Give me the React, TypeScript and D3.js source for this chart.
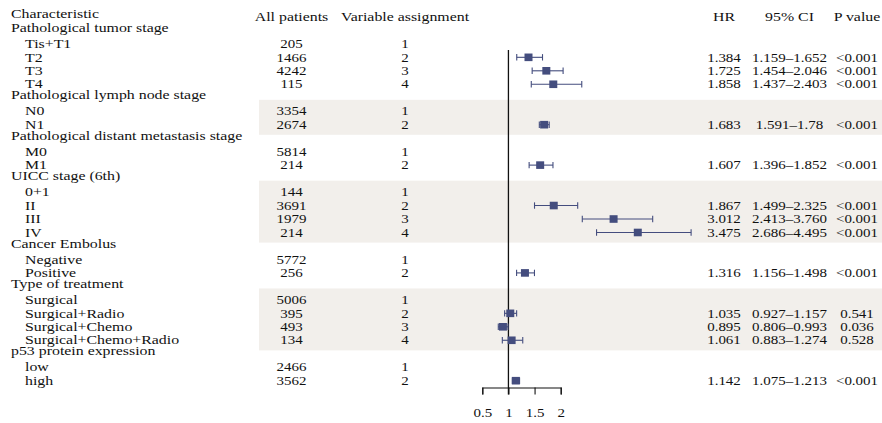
import React, { useEffect, useRef } from "react";
import * as d3 from "d3";

// Row content of the forest table (row 0 is the header line)
const characteristics = [
  "Pathological tumor stage", "Tis+T1", "T2", "T3", "T4",
  "Pathological lymph node stage", "N0", "N1",
  "Pathological distant metastasis stage", "M0", "M1",
  "UICC stage (6th)", "0+1", "II", "III", "IV",
  "Cancer Embolus", "Negative", "Positive",
  "Type of treatment", "Surgical", "Surgical+Radio", "Surgical+Chemo", "Surgical+Chemo+Radio",
  "p53 protein expression", "low", "high",
];
// true = group heading row
const isGroup = [
  true, false, false, false, false,
  true, false, false,
  true, false, false,
  true, false, false, false, false,
  true, false, false,
  true, false, false, false, false,
  true, false, false,
];
const patients = [
  "", "205", "1466", "4242", "115",
  "", "3354", "2674",
  "", "5814", "214",
  "", "144", "3691", "1979", "214",
  "", "5772", "256",
  "", "5006", "395", "493", "134",
  "", "2466", "3562",
];
const assignments = [
  "", "1", "2", "3", "4",
  "", "1", "2",
  "", "1", "2",
  "", "1", "2", "3", "4",
  "", "1", "2",
  "", "1", "2", "3", "4",
  "", "1", "2",
];
const hrValues = [
  "", "", "1.384", "1.725", "1.858",
  "", "", "1.683",
  "", "", "1.607",
  "", "", "1.867", "3.012", "3.475",
  "", "", "1.316",
  "", "", "1.035", "0.895", "1.061",
  "", "", "1.142",
];
const ciLower = [
  "", "", "1.159", "1.454", "1.437",
  "", "", "1.591",
  "", "", "1.396",
  "", "", "1.499", "2.413", "2.686",
  "", "", "1.156",
  "", "", "0.927", "0.806", "0.883",
  "", "", "1.075",
];
const ciUpper = [
  "", "", "1.652", "2.046", "2.403",
  "", "", "1.78",
  "", "", "1.852",
  "", "", "2.325", "3.760", "4.495",
  "", "", "1.498",
  "", "", "1.157", "0.993", "1.274",
  "", "", "1.213",
];
const pValues = [
  "", "", "<0.001", "<0.001", "<0.001",
  "", "", "<0.001",
  "", "", "<0.001",
  "", "", "<0.001", "<0.001", "<0.001",
  "", "", "<0.001",
  "", "", "0.541", "0.036", "0.528",
  "", "", "<0.001",
];
const headers = ["Characteristic", "All patients", "Variable assignment", "HR", "95% CI", "P value"];
const axisTicks = [0.5, 1, 1.5, 2];
// groups whose item rows are shaded: [first row, last row]
const shadedRows = [[7, 8], [13, 16], [21, 24]];

const W = 882;
const H = 423;
const FONT = "'Liberation Serif', 'Times New Roman', serif";
const FS = 12.7;
const SX_NUM = 1.18; // horizontal stretch for numeric cells
const SX_TXT = 1.25; // horizontal stretch for word labels
const INK = "#111";
const MARK = "#444d7e";
const BAND = "#f2efeb";

const x = d3.scaleLinear().domain([0.5, 2]).range([482.3, 560.7]);
const y = d3.scaleLinear().domain([0, 27]).range([16.9, 380.7]);
const BASE = 4.2; // baseline offset from row centre
const AXIS_Y = 387.5;

function Txt({
  x: tx,
  y: ty,
  anchor = "start",
  sx = SX_NUM,
  children,
}: {
  x: number;
  y: number;
  anchor?: string;
  sx?: number;
  children: React.ReactNode;
}) {
  return (
    <text
      transform={`translate(${tx},${ty}) scale(${sx},1)`}
      textAnchor={anchor}
      fontFamily={FONT}
      fontSize={FS}
      fill={INK}
    >
      {children}
    </text>
  );
}

export default function App() {
  const axisRef = useRef<SVGGElement>(null);

  useEffect(() => {
    if (!axisRef.current) return;
    const g = d3.select(axisRef.current);
    g.selectAll("*").remove();
    g.call(
      d3
        .axisBottom(x)
        .tickValues(axisTicks)
        .tickSize(7)
        .tickSizeOuter(7)
        .tickPadding(14)
        .tickFormat((d) => String(d))
    );
    g.attr("font-family", FONT).attr("font-size", FS);
    g.select(".domain").attr("stroke", "#111").attr("stroke-width", 1.1);
    g.selectAll(".tick line").attr("stroke", "#111").attr("stroke-width", 1.1);
    g.selectAll(".tick text")
      .attr("fill", INK)
      .attr("dy", "0.66em")
      .attr("transform", `scale(${SX_NUM},1)`);
  }, []);

  const rows = characteristics.map((label, i) => ({ label, r: i + 1, i }));

  return (
    <svg
      width={W}
      height={H}
      style={{ position: "absolute", left: 0, top: 0, display: "block", background: "#fff" }}
    >
      {shadedRows.map(([a, b], k) => (
        <rect key={k} x={259} y={y(a) - 11.4} width={W - 259} height={y(b) - y(a) + 21.5} fill={BAND} />
      ))}

      {/* header line */}
      <Txt x={11} y={y(0) + BASE - 3} sx={SX_TXT}>{headers[0]}</Txt>
      <Txt x={291.5} y={y(0) + BASE} anchor="middle" sx={SX_TXT}>{headers[1]}</Txt>
      <Txt x={405} y={y(0) + BASE} anchor="middle" sx={SX_TXT}>{headers[2]}</Txt>
      <Txt x={724} y={y(0) + BASE} anchor="middle" sx={SX_TXT}>{headers[3]}</Txt>
      <Txt x={789.5} y={y(0) + BASE} anchor="middle" sx={SX_TXT}>{headers[4]}</Txt>
      <Txt x={857} y={y(0) + BASE} anchor="middle" sx={SX_TXT}>{headers[5]}</Txt>

      {rows.map(({ label, r, i }) => (
        <g key={r}>
          <Txt x={isGroup[i] ? 11 : 25} y={y(r) + BASE - (isGroup[i] ? 2.5 : 0)} sx={SX_TXT}>
            {label}
          </Txt>
          {patients[i] && <Txt x={291.5} y={y(r) + BASE} anchor="middle">{patients[i]}</Txt>}
          {assignments[i] && <Txt x={405} y={y(r) + BASE} anchor="middle">{assignments[i]}</Txt>}
          {hrValues[i] && <Txt x={724} y={y(r) + BASE} anchor="middle">{hrValues[i]}</Txt>}
          {hrValues[i] && (
            <Txt x={789.5} y={y(r) + BASE} anchor="middle">{`${ciLower[i]}\u2013${ciUpper[i]}`}</Txt>
          )}
          {pValues[i] && <Txt x={857} y={y(r) + BASE} anchor="middle">{pValues[i]}</Txt>}
        </g>
      ))}

      {/* reference line at HR = 1 */}
      <line x1={x(1)} x2={x(1)} y1={50} y2={AXIS_Y + 7} stroke="#111" strokeWidth={1.3} />

      {/* confidence intervals and point estimates */}
      {rows
        .filter(({ i }) => hrValues[i])
        .map(({ r, i }) => {
          const lo = x(+ciLower[i]);
          const hi = x(+ciUpper[i]);
          const c = x(+hrValues[i]);
          const cy = y(r);
          return (
            <g key={`m${r}`} stroke={MARK} strokeWidth={1.1}>
              <line x1={lo} x2={hi} y1={cy} y2={cy} />
              <line x1={lo} x2={lo} y1={cy - 3.2} y2={cy + 3.2} />
              <line x1={hi} x2={hi} y1={cy - 3.2} y2={cy + 3.2} />
              <rect x={c - 4} y={cy - 3.8} width={8} height={7.6} fill={MARK} stroke="none" />
            </g>
          );
        })}

      <g ref={axisRef} transform={`translate(0,${AXIS_Y})`} />
    </svg>
  );
}
